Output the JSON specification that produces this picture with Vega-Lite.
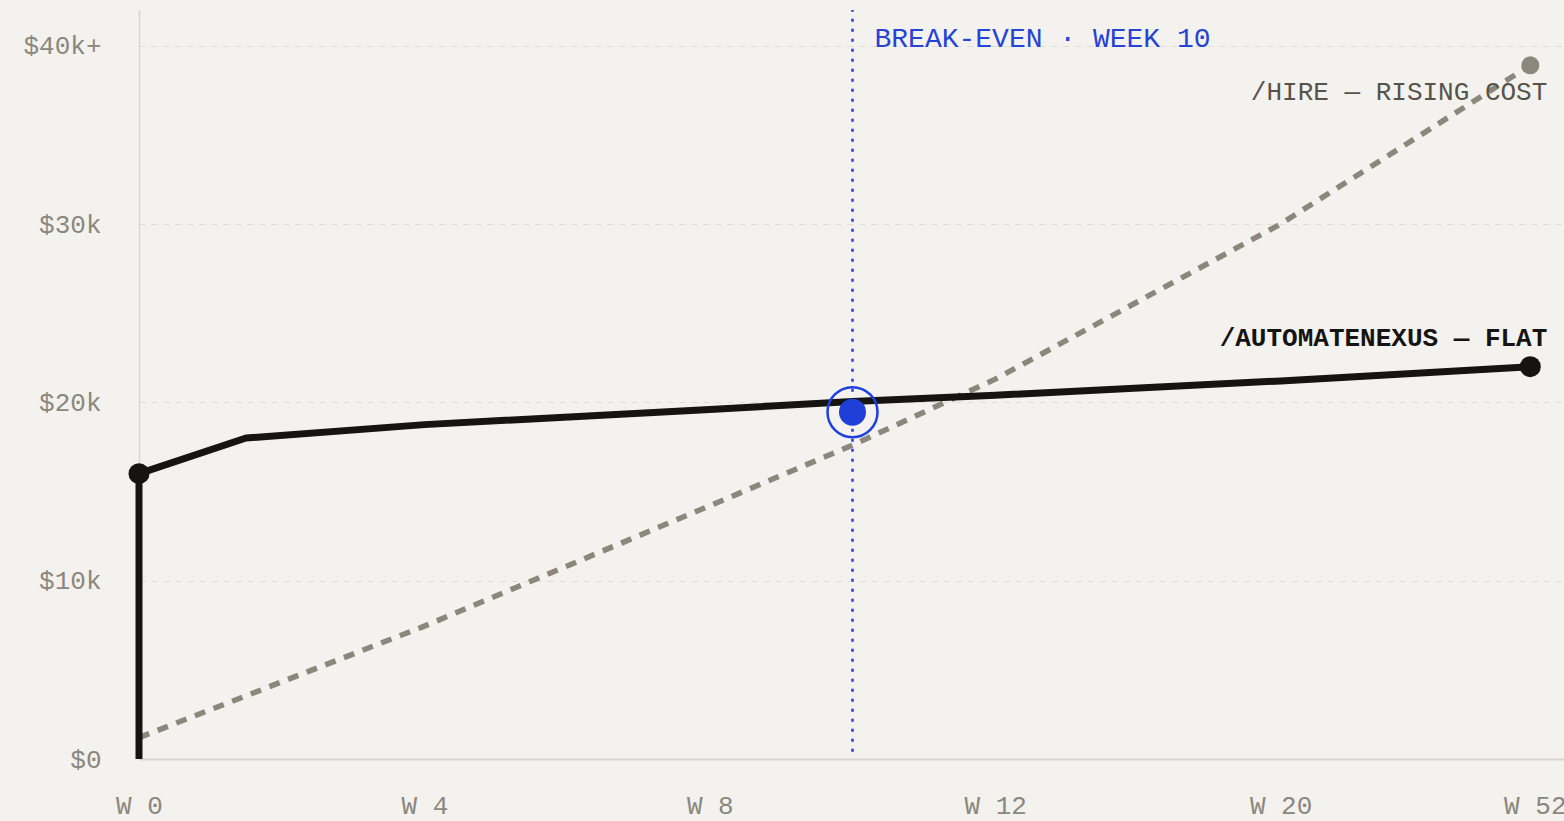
{
  "$schema": "https://vega.github.io/schema/vega-lite/v6.json",
  "width": 1427,
  "height": 749,
  "autosize": {"type": "none"},
  "padding": {"left": 139, "top": 10, "right": 0, "bottom": 62},
  "background": "#f3f2ee",
  "config": {"view": {"stroke": null}, "font": "Liberation Mono"},
  "datasets": {
    "auto": [
      {"order": 0, "pos": 0, "cost": 0},
      {"order": 1, "pos": 0, "cost": 16.0},
      {"order": 2, "pos": 7.5, "cost": 18.0},
      {"order": 3, "pos": 20, "cost": 18.75},
      {"order": 4, "pos": 40, "cost": 19.6},
      {"order": 5, "pos": 50, "cost": 20.05},
      {"order": 6, "pos": 60, "cost": 20.4},
      {"order": 7, "pos": 80, "cost": 21.2},
      {"order": 8, "pos": 97.5, "cost": 22.0}
    ],
    "hire": [
      {"pos": 0, "cost": 1.2},
      {"pos": 20, "cost": 7.45},
      {"pos": 40, "cost": 14.2},
      {"pos": 50, "cost": 17.6},
      {"pos": 60, "cost": 21.3},
      {"pos": 80, "cost": 30.0},
      {"pos": 97.5, "cost": 38.9}
    ],
    "breakeven": [{"pos": 50, "cost": 19.45, "bottom": 0.4, "top": 42, "label": "BREAK-EVEN · WEEK 10", "labelCost": 40}]
  },
  "encoding": {
    "x": {
      "field": "pos",
      "type": "quantitative",
      "scale": {"domain": [0, 100], "nice": false, "zero": false},
      "axis": {
        "title": null,
        "values": [0, 20, 40, 60, 80, 100],
        "labelExpr": "['W 0','W 4','W 8','W 12','W 20','W 52'][round(datum.value/20)]",
        "grid": false,
        "ticks": false,
        "domainColor": "#d8d5cf",
        "domainWidth": 2,
        "labelColor": "#8b877d",
        "labelFont": "Liberation Mono",
        "labelFontSize": 26,
        "labelBaseline": "middle",
        "labelPadding": 46,
        "labelFlush": false,
        "labelBound": false,
        "labelOverlap": false,
        "labelAlign": {"condition": {"test": "datum.value == 100", "value": "right"}, "value": "center"}
      }
    },
    "y": {
      "field": "cost",
      "type": "quantitative",
      "scale": {"domain": [0, 42], "nice": false},
      "axis": {
        "title": null,
        "values": [0, 10, 20, 30, 40],
        "labelExpr": "datum.value == 40 ? '$40k+' : (datum.value == 0 ? '$0' : '$' + datum.value + 'k')",
        "ticks": false,
        "grid": true,
        "gridColor": "#dfdcd6",
        "gridDash": [6, 6],
        "gridWidth": 1,
        "domainColor": "#d8d5cf",
        "domainWidth": 1.5,
        "labelColor": "#8b877d",
        "labelFont": "Liberation Mono",
        "labelFontSize": 26,
        "labelPadding": 38,
        "labelOverlap": false
      }
    }
  },
  "layer": [
    {
      "data": {"name": "breakeven"},
      "mark": {"type": "rule", "color": "#1f3fe0", "strokeWidth": 2.5, "strokeDash": [3, 7]},
      "encoding": {"y": {"field": "bottom", "type": "quantitative"}, "y2": {"field": "top"}}
    },
    {
      "data": {"name": "hire"},
      "mark": {"type": "line", "color": "#8b877b", "strokeWidth": 5.5, "strokeDash": [11, 9]},
      "encoding": {}
    },
    {
      "data": {"name": "auto"},
      "mark": {"type": "line", "color": "#151412", "strokeWidth": 7, "strokeJoin": "round"},
      "encoding": {"order": {"field": "order", "type": "quantitative"}}
    },
    {
      "data": {"name": "auto"},
      "transform": [{"filter": "datum.order == 1 || datum.order == 8"}],
      "mark": {"type": "point", "filled": true, "color": "#151412", "opacity": 1, "size": 440, "shape": "circle"}
    },
    {
      "data": {"name": "hire"},
      "transform": [{"filter": "datum.pos == 97.5"}],
      "mark": {"type": "point", "filled": true, "color": "#8b877b", "opacity": 1, "size": 324, "shape": "circle"}
    },
    {
      "data": {"name": "breakeven"},
      "mark": {"type": "point", "filled": false, "stroke": "#1f3fe0", "strokeWidth": 2.5, "opacity": 1, "size": 2500, "shape": "circle"}
    },
    {
      "data": {"name": "breakeven"},
      "mark": {"type": "point", "filled": true, "color": "#1f3fd6", "opacity": 1, "size": 729, "shape": "circle"}
    },
    {
      "data": {"name": "breakeven"},
      "mark": {"type": "text", "align": "left", "baseline": "alphabetic", "dx": 22, "dy": 1, "font": "Liberation Mono", "fontSize": 28, "color": "#2643d6"},
      "encoding": {"y": {"field": "labelCost", "type": "quantitative"}, "text": {"field": "label"}}
    },
    {
      "data": {"name": "hire"},
      "transform": [{"filter": "datum.pos == 97.5"}],
      "mark": {"type": "text", "align": "right", "baseline": "alphabetic", "dx": 17, "dy": 35, "font": "Liberation Mono", "fontSize": 26, "color": "#57534b", "text": "/HIRE — RISING COST"}
    },
    {
      "data": {"name": "auto"},
      "transform": [{"filter": "datum.order == 8"}],
      "mark": {"type": "text", "align": "right", "baseline": "alphabetic", "dx": 17, "dy": -21, "font": "Liberation Mono", "fontSize": 26, "fontWeight": "bold", "color": "#151412", "text": "/AUTOMATENEXUS — FLAT"}
    }
  ]
}
